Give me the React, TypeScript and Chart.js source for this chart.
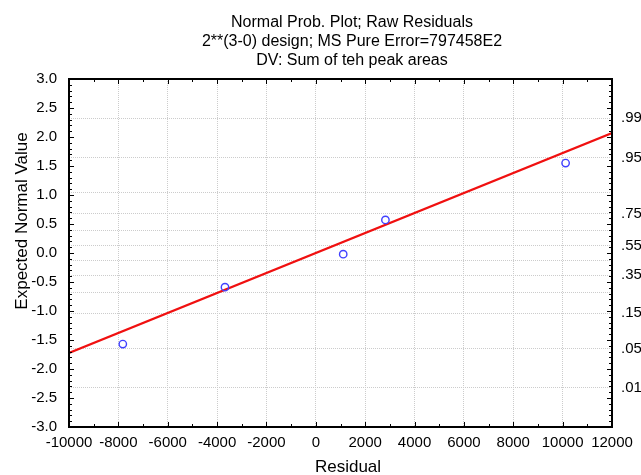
import React, { useEffect, useRef } from 'react';
import { Chart, registerables } from 'chart.js';

Chart.register(...registerables);

// Raw residuals and their expected normal values
const residuals = [-7820, -3680, 1110, 2820, 10120];
const expectedNormal = [-1.57, -0.59, -0.02, 0.57, 1.55];

// Reference line (ends at the x-axis limits)
const fitX = [-10000, 12000];
const fitY = [-1.724, 2.069];

// Probability scale on the right: z values and their labels
const probZ = [-2.326, -1.645, -1.036, -0.674, -0.385, -0.126, 0.126, 0.385, 0.674, 1.036, 1.645, 2.326];
const probLabels = ['.01', '.05', '.15', '', '.35', '', '.55', '', '.75', '', '.95', '.99'];

const titleLines = [
  'Normal Prob. Plot; Raw Residuals',
  '2**(3-0) design; MS Pure Error=797458E2',
  'DV: Sum of teh peak areas',
];
const xTitle = 'Residual';
const yTitle = 'Expected Normal Value';

const FONT = '"Liberation Sans", Arial, Helvetica, sans-serif';

const framePlugin = {
  id: 'frameAndTitles',
  afterDraw(chart: any) {
    const { ctx, chartArea: a, scales } = chart;
    const ys = scales.y;
    const xs = scales.x;
    ctx.save();
    ctx.strokeStyle = '#000';
    ctx.lineWidth = 1;
    ctx.beginPath();
    // inward tick marks on left and right frame
    for (let i = -30; i <= 30; i++) {
      const py = Math.round(ys.getPixelForValue(i / 10)) + 0.5;
      const len = i % 5 === 0 ? 5 : 3;
      ctx.moveTo(a.left, py);
      ctx.lineTo(a.left + len, py);
      ctx.moveTo(a.right, py);
      ctx.lineTo(a.right - len, py);
    }
    // inward tick marks on top and bottom frame
    for (let v = -10000; v <= 12000; v += 1000) {
      const px = Math.round(xs.getPixelForValue(v)) + 0.5;
      const len = v % 2000 === 0 ? 5 : 3;
      ctx.moveTo(px, a.top);
      ctx.lineTo(px, a.top + len);
      ctx.moveTo(px, a.bottom);
      ctx.lineTo(px, a.bottom - len);
    }
    ctx.stroke();

    ctx.lineWidth = 2;
    ctx.strokeRect(a.left, a.top, a.right - a.left, a.bottom - a.top);

    ctx.fillStyle = '#000';
    ctx.textAlign = 'center';
    ctx.textBaseline = 'alphabetic';
    ctx.font = `16px ${FONT}`;
    const tx = 352;
    titleLines.forEach((t, i) => ctx.fillText(t, tx, 27 + i * 19));

    ctx.font = `17px ${FONT}`;
    ctx.fillText(xTitle, 348, 472);

    ctx.translate(27, 221);
    ctx.rotate(-Math.PI / 2);
    ctx.fillText(yTitle, 0, 0);
    ctx.restore();
  },
};

export default function App() {
  const canvasRef = useRef<HTMLCanvasElement | null>(null);

  useEffect(() => {
    const canvas = canvasRef.current;
    if (!canvas) return;
    const tickFont = { family: FONT, size: 15 };
    const gridStyle = { color: '#cccccc', lineWidth: 1, drawTicks: false };

    const chart = new Chart(canvas, {
      type: 'scatter',
      data: {
        datasets: [
          {
            label: 'Normal line',
            data: fitX.map((x, i) => ({ x, y: fitY[i] })),
            showLine: true,
            borderColor: '#f01010',
            borderWidth: 2.2,
            pointRadius: 0,
            order: 2,
          },
          {
            label: 'Residuals',
            data: residuals.map((x, i) => ({ x, y: expectedNormal[i] })),
            showLine: false,
            pointRadius: 3.7,
            pointBorderWidth: 1.4,
            pointBorderColor: '#4040ff',
            pointBackgroundColor: 'rgba(0,0,0,0)',
            order: 1,
          },
        ],
      },
      options: {
        responsive: false,
        animation: false,
        layout: { padding: { top: 79, left: 0, right: 0, bottom: 0 } },
        plugins: {
          legend: { display: false },
          tooltip: { enabled: false },
          title: { display: false },
        },
        scales: {
          x: {
            type: 'linear',
            position: 'bottom',
            min: -10000,
            max: 12000,
            ticks: {
              stepSize: 2000,
              font: tickFont,
              color: '#000',
              padding: 7,
              maxRotation: 0,
              autoSkip: false,
              callback: (v: any) => String(v),
            },
            grid: gridStyle,
            border: { display: false, dash: [1, 1] },
            afterFit: (s: any) => {
              s.height = 48;
            },
          },
          y: {
            type: 'linear',
            position: 'left',
            min: -3,
            max: 3,
            ticks: {
              stepSize: 0.5,
              font: tickFont,
              color: '#000',
              padding: 4,
              callback: (v: any) => Number(v).toFixed(1),
            },
            grid: { display: false },
            border: { display: false },
            afterFit: (s: any) => {
              s.width = 69;
            },
          },
          y2: {
            type: 'linear',
            position: 'right',
            min: -3,
            max: 3,
            afterBuildTicks: (s: any) => {
              s.ticks = probZ.map((value) => ({ value }));
            },
            ticks: {
              font: tickFont,
              color: '#000',
              padding: 9,
              autoSkip: false,
              callback: (_v: any, i: number) => probLabels[i],
            },
            grid: gridStyle,
            border: { display: false, dash: [1, 1] },
            afterFit: (s: any) => {
              s.width = 29;
            },
          },
        },
      },
      plugins: [framePlugin],
    });
    return () => chart.destroy();
  }, []);

  return (
    <div style={{ position: 'absolute', left: 0, top: 0, width: 641, height: 475, background: '#fff' }}>
      <canvas ref={canvasRef} width={641} height={475} style={{ display: 'block' }} />
    </div>
  );
}
